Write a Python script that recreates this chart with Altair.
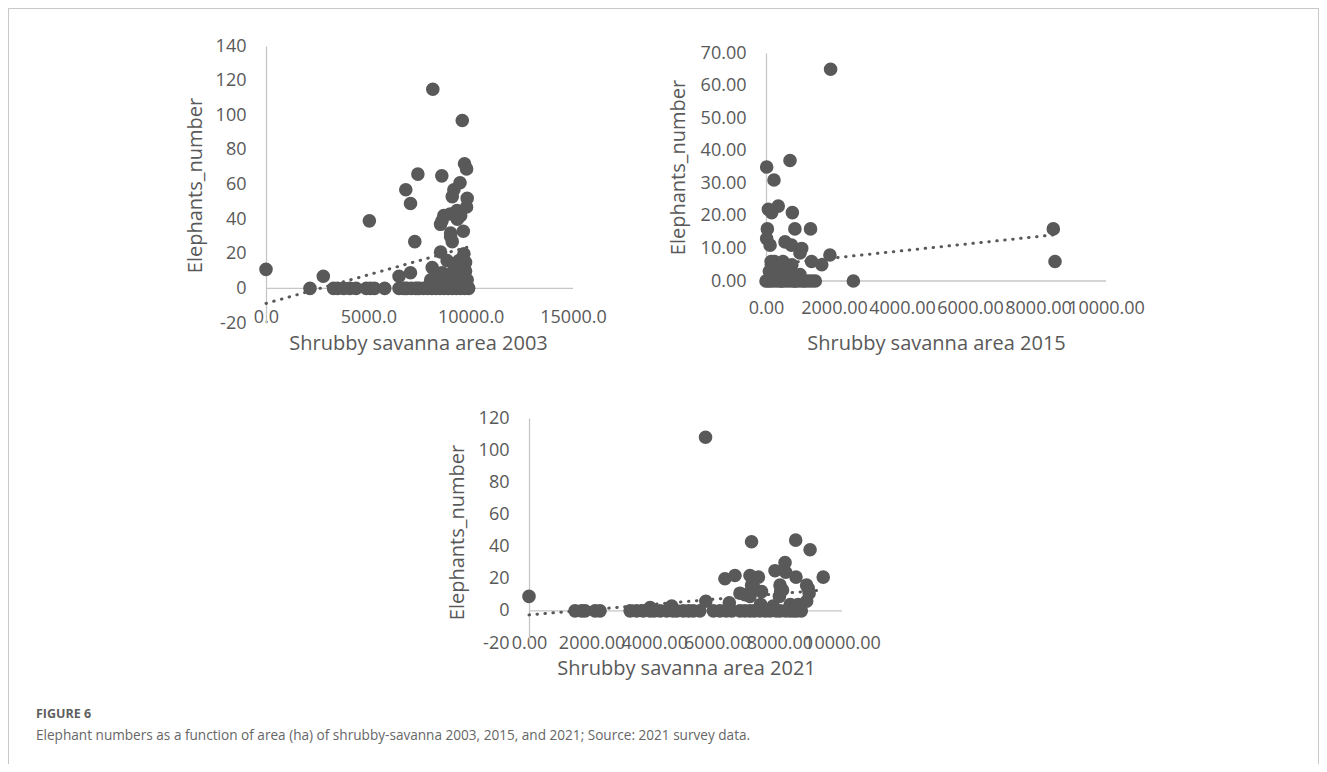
import altair as alt
import pandas as pd

# ---------------- data ----------------
area_2003 = [0, 2150, 2800, 3300, 3500, 3800, 4100, 4400, 4900, 5100,
             5300, 5800, 5050, 6500, 6500, 6800, 7100, 7400, 7700, 6830,
             7060, 7060, 7270, 7420, 8150, 8120, 8050, 8590, 8530, 8690,
             8530, 8850, 8600, 9020, 9100, 9100, 9180, 9480, 9590, 9700,
             9800, 9830, 9800, 9510, 9350, 9640, 9670, 9750, 9750, 9830,
             9180, 9020, 9430, 9300, 9000, 9330, 8600, 9020, 9330, 7900,
             8100, 8300, 8500, 8700, 8900, 9100, 9300, 9500, 9700, 9900,
             8000, 8400, 8800, 9200, 9600, 9850, 7500, 7300, 6900, 6700,
             8350, 8950, 9550]
elephants_2003 = [11, 0, 7, 0, 0, 0, 0, 0, 0, 0,
                  0, 0, 39, 7, 0, 0, 0, 0, 0, 57,
                  49, 9, 27, 66, 115, 12, 5, 65, 37, 42,
                  21, 16, 9, 32, 27, 53, 57, 61, 97, 72,
                  69, 52, 47, 42, 40, 33, 20, 15, 10, 5,
                  14, 5, 16, 10, 43, 45, 39, 30, 12, 0,
                  0, 0, 0, 0, 0, 0, 0, 0, 0, 0,
                  2, 3, 2, 3, 2, 1, 0, 0, 0, 0,
                  5, 8, 7]
trend_area_2003 = [0, 9900]
trend_elephants_2003 = [-8.7, 24]

area_2015 = [1900, 20, 706, 235, 70, 360, 167, 775, 40, 850,
             1310, 20, 120, 560, 750, 1050, 1000, 1880, 1340, 1640,
             150, 560, 760, 250, 500, 100, 500, 800, 300, 1000,
             600, 340, 2570, 8450, 8500,
             0, 60, 120, 200, 300, 400, 500, 600, 700, 800,
             900, 1000, 1100, 1250, 1350, 1450, 850, 450, 1150]
elephants_2015 = [65, 35, 37, 31, 22, 23, 21, 21, 16, 16,
                  16, 13, 11, 12, 11, 10, 8.6, 8, 6, 5,
                  6, 5, 5, 6, 6, 3, 3, 2, 1, 2,
                  3, 4, 0, 16, 6,
                  0, 0, 0, 0, 0, 0, 0, 0, 0, 0,
                  0, 0, 0, 0, 0, 0, 0, 0, 0]
trend_area_2015 = [0, 8500]
trend_elephants_2015 = [4.9, 14.2]

area_2021 = [0, 5640, 7110, 8520, 8980, 9400, 7860, 8180, 8200, 8530,
             6260, 6580, 7060, 7330, 6740, 7060, 7110, 7430, 8020, 8040,
             8000, 8920, 8950, 8870, 8350, 7400, 6400, 5650, 4560, 3870,
             6900, 7200, 8100, 8600, 7800, 8870,
             1470, 1680, 1790, 2110, 2270, 3230, 3440, 3650, 3870, 4190,
             4400, 4720, 4930, 5250, 5460, 5890, 6100, 6480, 6740, 7060,
             7380, 7700, 8020, 8340, 8550, 4000, 4600, 5100, 6300, 6900,
             7200, 7550, 7900, 8200, 8450, 8700]
elephants_2021 = [9, 108, 43, 44, 38, 21, 25, 30, 24, 21,
                  20, 22, 22, 21, 11, 9, 16, 12, 16, 12,
                  9, 14, 11, 6, 4, 4, 5, 6, 3, 2,
                  10, 14, 13, 4, 3, 16,
                  0, 0, 0, 0, 0, 0, 0, 0, 0, 0,
                  0, 0, 0, 0, 0, 0, 0, 0, 0, 0,
                  0, 0, 0, 0, 0, 0, 0, 0, 0, 0,
                  0, 0, 0, 0, 0, 0]
trend_area_2021 = [0, 9400]
trend_elephants_2021 = [-2.5, 13]

figure_label = "FIGURE 6"
caption_text = ("Elephant numbers as a function of area (ha) of shrubby-savanna "
                "2003, 2015, and 2021; Source: 2021 survey data.")

# ---------------- style ----------------
W, H = 1311, 756
FONT = "Open Sans"
TXT = "#595959"
DOT = "#595959"
AXLINE = "#c6c6c6"


def panel(area, eleph, t_area, t_eleph, xdom, xrng, ydom, yrng,
          xticks, yticks, xfmt, yfmt, xtitle, xlab_y, ytitle_x, ytitle_y,
          xtitle_x, xtitle_dy, ylabel_expr=None):
    df = pd.DataFrame({"area": area, "elephants": eleph})
    tdf = pd.DataFrame({"area": t_area, "elephants": t_eleph})
    one = pd.DataFrame({"k": [0]})
    xs = alt.Scale(domain=xdom, range=xrng, nice=False, zero=False)
    ys = alt.Scale(domain=ydom, range=yrng, nice=False, zero=False)
    yaxis_kw = dict(
        orient="left", offset=-xrng[0], values=yticks, format=yfmt,
        title="Elephants_number", domain=True, domainColor=AXLINE,
        domainWidth=1.3, ticks=False, grid=False, labelPadding=20,
        labelFont=FONT, labelFontSize=18, labelColor=TXT,
        labelOverlap=False, labelFlush=False, labelBound=False,
        labelBaseline="middle", titleFont=FONT, titleFontSize=20,
        titleFontWeight="normal", titleColor=TXT, titleAngle=270,
        titleX=ytitle_x - xrng[0], titleY=ytitle_y, titleBaseline="middle",
        titleAlign="center")
    if ylabel_expr:
        yaxis_kw["labelExpr"] = ylabel_expr
    xaxis_kw = dict(
        orient="bottom", offset=xlab_y - H, values=xticks, format=xfmt,
        title=xtitle, domain=False, ticks=False, tickSize=0, grid=False,
        labelPadding=0, labelBaseline="middle", labelFont=FONT,
        labelFontSize=18, labelColor=TXT, labelOverlap=False,
        labelFlush=False, labelBound=False, titleFont=FONT, titleFontSize=20,
        titleFontWeight="normal", titleColor=TXT, titleX=xtitle_x,
        titleY=xtitle_dy, titleBaseline="middle", titleAlign="center")

    zero_line = alt.Chart(one).mark_rule(color=AXLINE, strokeWidth=1.3).encode(
        x=alt.XDatum(xdom[0], scale=xs, axis=alt.Axis(**xaxis_kw)),
        x2=alt.X2Datum(xdom[1]),
        y=alt.YDatum(0, scale=ys, axis=alt.Axis(**yaxis_kw)),
    )
    pts = alt.Chart(df).mark_circle(size=185, color=DOT, opacity=1).encode(
        x=alt.X("area:Q", scale=xs, axis=alt.Axis(**xaxis_kw)),
        y=alt.Y("elephants:Q", scale=ys, axis=alt.Axis(**yaxis_kw)),
    )
    trend = alt.Chart(tdf).mark_line(color=DOT, strokeWidth=3,
                                     strokeDash=[0.5, 7.5],
                                     strokeCap="round").encode(
        x=alt.X("area:Q", scale=xs, axis=alt.Axis(**xaxis_kw)),
        y=alt.Y("elephants:Q", scale=ys, axis=alt.Axis(**yaxis_kw)),
    )
    return alt.layer(zero_line, trend, pts)


p1 = panel(area_2003, elephants_2003, trend_area_2003, trend_elephants_2003,
           [0, 15000], [258, 565], [-20, 140], [315, 38],
           [0, 5000, 10000, 15000], list(range(-20, 141, 20)), ".1f", "d",
           "Shrubby savanna area 2003", 309, 187, 177, 410, 26,
           ylabel_expr="'' + datum.value")
p2 = panel(area_2015, elephants_2015, trend_area_2015, trend_elephants_2015,
           [0, 10000], [758, 1098], [0, 70], [273, 45],
           list(range(0, 10001, 2000)), list(range(0, 71, 10)), ".2f", ".2f",
           "Shrubby savanna area 2015", 300, 670, 159, 928, 35)
p3 = panel(area_2021, elephants_2021, trend_area_2021, trend_elephants_2021,
           [0, 10000], [521, 834], [-20, 120], [635, 410],
           list(range(0, 10001, 2000)), list(range(-20, 121, 20)), ".2f", "d",
           "Shrubby savanna area 2021", 635, 449, 524, 678, 25,
           ylabel_expr="'' + datum.value")

one = pd.DataFrame({"k": [0]})
frame_left = alt.Chart(one).mark_rule(color="#c8c8c8", strokeWidth=1).encode(
    x=alt.value(0.5), y=alt.value(0), y2=alt.value(H))
frame_top = alt.Chart(one).mark_rule(color="#c8c8c8", strokeWidth=1).encode(
    x=alt.value(0), x2=alt.value(W), y=alt.value(0.5))
frame_right = alt.Chart(one).mark_rule(color="#c8c8c8", strokeWidth=1).encode(
    x=alt.value(W - 0.5), y=alt.value(0), y2=alt.value(H))

fig_lbl = alt.Chart(one).mark_text(
    text=figure_label, font=FONT, fontSize=12.5, fontWeight="bold",
    color="#5f5f5f", align="left", baseline="middle").encode(
    x=alt.value(28), y=alt.value(706))
cap = alt.Chart(one).mark_text(
    text=caption_text, font=FONT, fontSize=13.6, color="#666666",
    align="left", baseline="middle").encode(
    x=alt.value(28), y=alt.value(728))

chart = alt.layer(
    frame_left, frame_top, frame_right, p1, p2, p3, fig_lbl, cap
).resolve_scale(x="independent", y="independent").resolve_axis(
    x="independent", y="independent"
).properties(
    width=W, height=H, padding=0,
    autosize=alt.AutoSizeParams(type="none"),
    background="white",
).configure_view(stroke=None)

chart.save("out.html", embed_options={"renderer": "svg", "actions": False})
